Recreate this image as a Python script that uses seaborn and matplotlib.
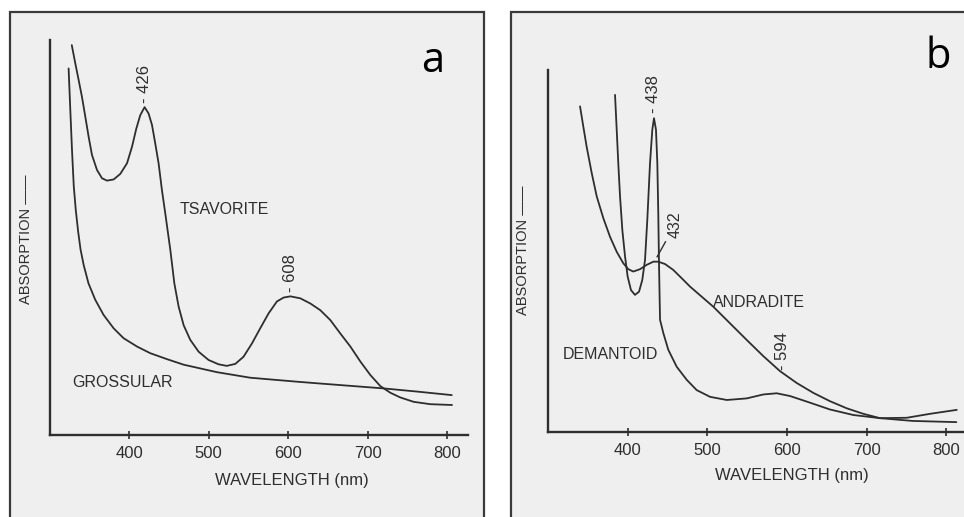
import numpy as np
import pandas as pd
import matplotlib
matplotlib.use('Agg')
import matplotlib.pyplot as plt
from matplotlib.patches import Rectangle
import seaborn as sns

# values (absorption in arbitrary units)
# panel a
tsavorite_wl = [328, 332.4, 336.6, 340.8, 345, 349.2, 353.4, 359.7, 366, 372.3, 380.7, 389, 397.5, 403.8,
                409.2, 414.2, 419.6, 424.6, 428.9, 433, 437.2, 441.4, 445.6, 452, 457, 462.4, 468.7, 477,
                487.5, 500, 512.6, 523, 533.7, 544, 554.7, 565, 575.6, 586, 594.5, 603, 615.5, 628, 640.6,
                653.2, 665.8, 678.4, 691, 703.5, 716, 728.7, 741.3, 758, 779, 806.3]
tsavorite_abs = [98.7, 94.1, 89.9, 85.6, 80.6, 75.5, 70.9, 67.1, 65.0, 64.4, 64.7, 66.1, 68.8, 73.0,
                 77.6, 81.0, 83.0, 81.4, 78.5, 73.8, 68.8, 62.0, 56.1, 46.8, 38.4, 32.5, 27.8, 24.1,
                 21.1, 19.0, 17.9, 17.5, 18.0, 19.8, 23.2, 27.0, 30.8, 33.8, 34.8, 35.1, 34.6, 33.3, 31.6,
                 29.1, 25.7, 22.4, 18.6, 15.2, 12.4, 10.7, 9.5, 8.4, 7.8, 7.6]
grossular_wl = [324, 326, 328.3, 330.5, 333, 336, 339, 343, 349, 357.6, 368, 380.7, 393.2, 410, 426.8,
                447.8, 468.7, 510.7, 552.6, 611, 636, 720, 762, 806]
grossular_abs = [92.8, 83.0, 72.0, 63.0, 57.0, 51.5, 47.0, 43.0, 38.4, 34.2, 30.4, 27.0, 24.5, 22.4, 20.7,
                 19.2, 17.8, 15.9, 14.5, 13.5, 13.1, 11.8, 11.0, 10.1]

# panel b
andradite_wl = [339.7, 343.8, 348, 354.4, 360.7, 369, 377.4, 385.8, 394.1, 400.4, 406.7, 415.1, 423.6,
                431.9, 438.1, 446.6, 457, 469.6, 478, 507.3, 528.3, 549.3, 570.2, 591.2, 612.2, 633.1,
                654, 675.1, 696, 717, 758, 813]
andradite_abs = [82.4, 77.3, 72.2, 65.5, 59.6, 54.1, 49.4, 45.6, 42.7, 41.2, 40.6, 41.2, 42.3,
                 43.1, 43.1, 42.5, 41.0, 38.5, 36.8, 31.7, 27.5, 23.3, 19.2, 15.4, 12.4, 9.9,
                 7.8, 6.0, 4.6, 3.5, 2.8, 2.5]
demantoid_wl = [383.7, 385.8, 387.8, 390, 392.9, 396.3, 399.6, 403.8, 408.8, 413.9, 418, 421.4, 424.3,
                427.7, 430.6, 432.7, 435.2, 436.9, 438.1, 439, 440.3, 444.5, 450.7, 461.3, 473.9, 486.4,
                503.2, 524.2, 549.3, 570.2, 587, 603.8, 624.8, 654, 683.4, 717, 750.6, 779.9, 813.5]
demantoid_abs = [85.3, 76.5, 68.0, 59.6, 51.1, 44.4, 39.3, 35.9, 34.7, 35.5, 38.5, 43.5, 53.7,
                 68.0, 76.5, 79.4, 76.5, 68.0, 55.4, 42.7, 28.4, 25.0, 20.8, 16.5, 13.2, 10.6,
                 8.9, 8.1, 8.5, 9.5, 9.8, 9.1, 7.7, 5.7, 4.3, 3.5, 3.6, 4.6, 5.6]

xticks = [400, 500, 600, 700, 800]

# peak labels: (text, wavelength, absorption at the foot of the label)
peaks_a = [("426", 419.6, 84.0), ("608", 603, 36.3)]
peaks_b = [("438", 432.7, 80.8), ("594", 594, 15.8)]

df_a = pd.concat([
    pd.DataFrame({'wl': tsavorite_wl, 'abs': tsavorite_abs, 'garnet': 'TSAVORITE'}),
    pd.DataFrame({'wl': grossular_wl, 'abs': grossular_abs, 'garnet': 'GROSSULAR'}),
])
df_b = pd.concat([
    pd.DataFrame({'wl': andradite_wl, 'abs': andradite_abs, 'garnet': 'ANDRADITE'}),
    pd.DataFrame({'wl': demantoid_wl, 'abs': demantoid_abs, 'garnet': 'DEMANTOID'}),
])

sns.set_theme(style='white')
plt.rcParams['font.family'] = ['Liberation Sans', 'DejaVu Sans']

ink = '#2e2e2e'
paper = '#efefef'
W, H = 964, 517

fig = plt.figure(figsize=(W / 100, H / 100), dpi=100)
fig.patch.set_facecolor('white')

# scanned page frames
fig.add_artist(Rectangle((10 / W, -0.05), (484 - 10) / W, 1.05 - 12 / H, transform=fig.transFigure,
                         fc=paper, ec='#3a3a3a', lw=1.6, zorder=-1))
fig.add_artist(Rectangle((511 / W, -0.05), 0.6, 1.05 - 12 / H, transform=fig.transFigure,
                         fc=paper, ec='#3a3a3a', lw=1.6, zorder=-1))

# axes placed in pixels
ax_a = fig.add_axes([50 / W, (H - 435) / H, (468 - 50) / W, (435 - 40) / H])
ax_b = fig.add_axes([548 / W, (H - 432) / H, (964 - 548) / W, (432 - 70) / H])

panels = [
    (ax_a, df_a, (300.6, 826.4), (0, 100), peaks_a, 'a', 433, 72),
    (ax_b, df_b, (299.4, 822.6), (0, 91.6), peaks_b, 'b', 938, 68),
]

for ax, df, xl, yl, peaks, letter, lx, ly in panels:
    sns.lineplot(data=df, x='wl', y='abs', units='garnet', estimator=None, color=ink,
                 lw=1.3, ax=ax, legend=False)
    ax.set_xlim(*xl)
    ax.set_ylim(*yl)
    ax.patch.set_alpha(0)
    sns.despine(ax=ax)
    for s in ['left', 'bottom']:
        ax.spines[s].set_color(ink)
        ax.spines[s].set_linewidth(1.7)
    ax.set_xticks(xticks)
    ax.set_yticks([])
    ax.tick_params(axis='x', direction='inout', length=6, width=1.2, color=ink,
                   labelsize=12, labelcolor=ink, pad=5, bottom=True)
    ax.set_xlabel('WAVELENGTH (nm)', fontsize=12, color=ink)
    ax.set_ylabel('ABSORPTION ——', fontsize=10.5, color=ink)
    for txt, x, y in peaks:
        ax.text(x, y, '- ' + txt, rotation=90, ha='center', va='bottom', fontsize=12, color=ink)
    fig.text(lx / W, (H - ly) / H, letter, fontsize=30, family='Open Sans', color='black',
             ha='center', va='baseline')

ax_a.xaxis.set_label_coords((292 - 50) / 418, (435 - 473) / 395)
ax_a.yaxis.set_label_coords((33 - 50) / 418, (435 - 239) / 395)
ax_b.xaxis.set_label_coords((792 - 548) / 416, (432 - 468) / 362)
ax_b.yaxis.set_label_coords((530 - 548) / 416, (432 - 250) / 362)

ax_a.text(464, 57, 'TSAVORITE', fontsize=11.5, color=ink, va='center')
ax_a.text(329, 13.2, 'GROSSULAR', fontsize=11.5, color=ink, va='center')
ax_b.text(507, 32.7, 'ANDRADITE', fontsize=11.5, color=ink, va='center')
ax_b.text(318, 19.5, 'DEMANTOID', fontsize=11.5, color=ink, va='center')
ax_b.annotate('432', xy=(436.5, 44.3), xytext=(459, 49), rotation=90, ha='center', va='bottom',
              fontsize=11.5, color=ink,
              arrowprops=dict(arrowstyle='-', color=ink, lw=1.0, shrinkA=0, shrinkB=0))

fig.savefig('out.png', dpi=100)
